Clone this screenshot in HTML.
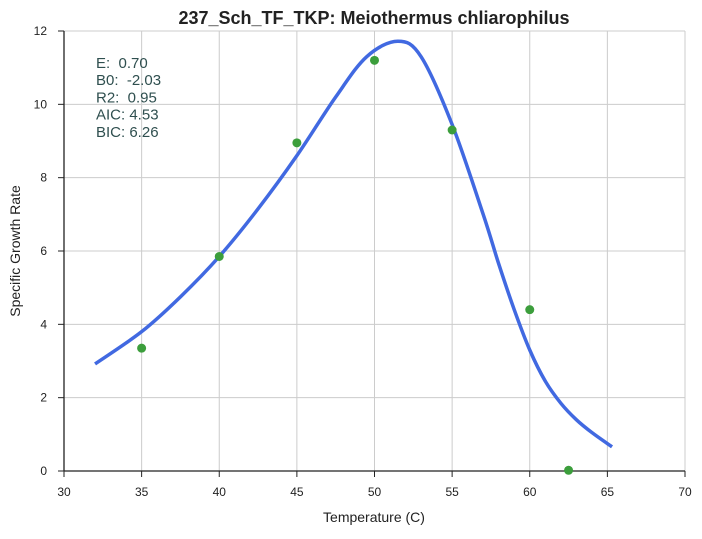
<!DOCTYPE html>
<html><head><meta charset="utf-8"><style>
body{margin:0;background:#fff;font-family:"Liberation Sans",sans-serif;}
</style></head><body>
<svg id="c" width="702" height="534" xmlns="http://www.w3.org/2000/svg" font-family="Liberation Sans, sans-serif"></svg>
<script>
const xTicks=[30,35,40,45,50,55,60,65,70];
const yTicks=[0,2,4,6,8,10,12];
const obsTemp=[35,40,45,50,55,60,62.5];
const obsRate=[3.35,5.85,8.95,11.2,9.3,4.4,0.02];
const fitTemp=[32,35,37.5,40,42.5,45,47.5,49.5,51.5,53,55,57,58,59,60,61,62,63,64,65.3];
const fitRate=[2.92,3.8,4.75,5.85,7.15,8.6,10.2,11.3,11.72,11.3,9.45,7.0,5.65,4.4,3.3,2.45,1.85,1.4,1.05,0.66];
const stats=["E:  0.70","B0:  -2.03","R2:  0.95","AIC: 4.53","BIC: 6.26"];
const X0=64,X1=685,Y0=471,Y1=31;
const sx=v=>X0+(v-30)/40*(X1-X0);
const sy=v=>Y0-(v/12)*(Y0-Y1);
const svg=document.getElementById('c');
const NS="http://www.w3.org/2000/svg";
function mk(t,a,p){const e=document.createElementNS(NS,t);for(const k in a)e.setAttribute(k,a[k]);(p||svg).appendChild(e);return e;}
let e;
xTicks.forEach(t=>{
 e=mk('line',{x1:sx(t),x2:sx(t),y1:Y1,y2:Y0,stroke:'#cccccc','stroke-width':1});
 
 
 e=mk('line',{x1:sx(t),x2:sx(t),y1:Y0,y2:Y0+6,stroke:'#222'});
 
 
 e=mk('text',{x:sx(t),y:Y0+25,'text-anchor':'middle','font-size':12,fill:'#222'});e.textContent=t;
 
 
});
yTicks.forEach(t=>{
 e=mk('line',{x1:X0,x2:X1,y1:sy(t),y2:sy(t),stroke:'#cccccc','stroke-width':1});
 
 
 e=mk('line',{x1:X0-6,x2:X0,y1:sy(t),y2:sy(t),stroke:'#222'});
 
 
 e=mk('text',{x:X0-17,y:sy(t)+4,'text-anchor':'end','font-size':12,fill:'#222'});e.textContent=t;
 
 
});
e=mk('line',{x1:X0,x2:X0,y1:Y1,y2:Y0,stroke:'#222','stroke-width':1.3});


e=mk('line',{x1:X0,x2:X1,y1:Y0,y2:Y0,stroke:'#222','stroke-width':1.3});


const P=fitTemp.map((t,i)=>[sx(t),sy(fitRate[i])]);
let d=`M${P[0][0]},${P[0][1]}`;
for(let i=0;i<P.length-1;i++){const p0=P[Math.max(i-1,0)],p1=P[i],p2=P[i+1],p3=P[Math.min(i+2,P.length-1)];
 d+=` C${p1[0]+(p2[0]-p0[0])/6},${p1[1]+(p2[1]-p0[1])/6} ${p2[0]-(p3[0]-p1[0])/6},${p2[1]-(p3[1]-p1[1])/6} ${p2[0]},${p2[1]}`;}
e=mk('path',{d:d,fill:'none',stroke:'#4169e1','stroke-width':3.5,'stroke-linejoin':'round'});


obsTemp.forEach((t,i)=>{
 e=mk('circle',{cx:sx(t),cy:sy(obsRate[i]),r:4.5,fill:'#3c9e3c'});
 
 
});
stats.forEach((s,i)=>{
 e=mk('text',{x:96,y:68+i*17.2,'font-size':15,fill:'#2f4f4f',style:'white-space:pre'});e.textContent=s;
 
 
});
e=mk('text',{x:374,y:24,'text-anchor':'middle','font-size':18,'font-weight':'bold',fill:'#222'});e.textContent='237_Sch_TF_TKP: Meiothermus chliarophilus';


e=mk('text',{x:374,y:522,'text-anchor':'middle','font-size':14,fill:'#222'});e.textContent='Temperature (C)';


e=mk('text',{x:20,y:251,'text-anchor':'middle','font-size':14,fill:'#222',transform:'rotate(-90 20 251)'});e.textContent='Specific Growth Rate';


</script>
</body></html>
